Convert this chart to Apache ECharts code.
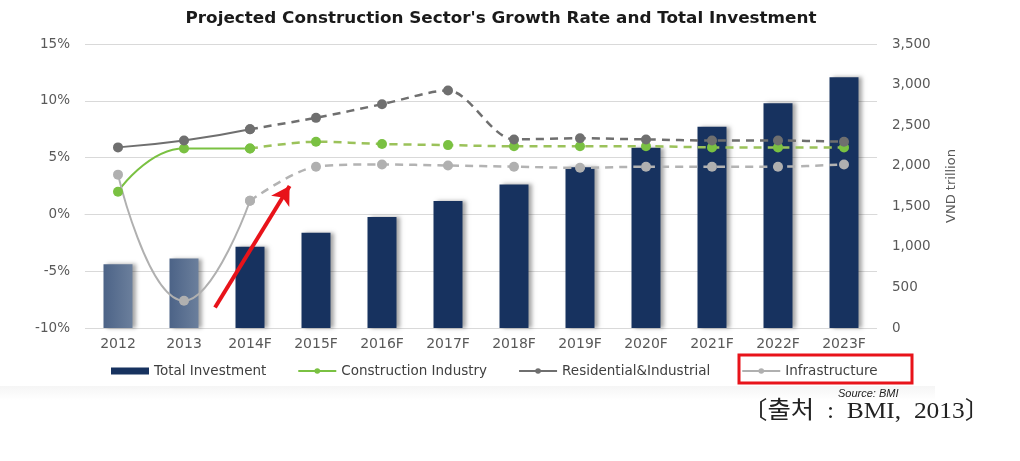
<!DOCTYPE html>
<html>
<head>
<meta charset="utf-8">
<script src="https://cdn.jsdelivr.net/npm/echarts@6/dist/echarts.min.js"></script>
<style>html,body{margin:0;padding:0;background:#fff}#c{width:1020px;height:461px}</style>
</head>
<body>
<div id="c"></div>
<script>
const categories = ['2012','2013','2014F','2015F','2016F','2017F','2018F','2019F','2020F','2021F','2022F','2023F'];
const totalInvestment = [785, 855, 1000, 1175, 1368, 1565, 1770, 1980, 2220, 2480, 2770, 3090];
const constructionIndustry = [2.0, 5.8, 5.8, 6.4, 6.2, 6.1, 6.0, 6.0, 6.0, 5.9, 5.9, 5.9];
const residentialIndustrial = [5.9, 6.5, 7.5, 8.5, 9.7, 10.9, 6.6, 6.7, 6.6, 6.5, 6.5, 6.4];
const infrastructure = [3.5, -7.6, 1.2, 4.2, 4.4, 4.3, 4.2, 4.1, 4.2, 4.2, 4.2, 4.4];
const actualCount = 3; // 2012, 2013, 2014F drawn solid; dashed from 2014F on
const leftTicks = [-10, 15, 5];
const rightTicks = [0, 3500, 500];
const arrowStart = [1.47, -8.2];
const arrowEnd = [2.6, 2.5];

const FONT = 'DejaVu Sans';
const AX = '#595959';
const navy = '#17325f';

function actualPart(arr){ return arr.map((v,i)=> i < actualCount ? v : '-'); }
function forecastPart(arr){ return arr.map((v,i)=> i >= actualCount-1 ? v : '-'); }

const lineDefs = [
  {name:'Construction Industry', data: constructionIndustry, color:'#7ac142', dash:'#9bc25a'},
  {name:'Residential&Industrial', data: residentialIndustrial, color:'#6f6f6f', dash:'#6f6f6f'},
  {name:'Infrastructure', data: infrastructure, color:'#b0b0b0', dash:'#b3b3b3'}
];

const series = [{
  name:'Total Investment', type:'bar', yAxisIndex:1, barWidth:29,
  data: totalInvestment.map((v,i)=>({value:v, itemStyle:{color: i < 2 ? {type:'linear',x:0,y:0,x2:1,y2:0,colorStops:[{offset:0,color:'#4c6387'},{offset:1,color:'#6b7f9c'}]} : navy}})),
  itemStyle:{color:navy, shadowColor:'rgba(0,0,0,0.35)', shadowBlur:4, shadowOffsetX:3},
  z:1
}];
lineDefs.forEach(d=>{
  series.push({
    name:d.name, type:'line', yAxisIndex:0, smooth:0.5, data: actualPart(d.data),
    symbol:'circle', symbolSize:10, itemStyle:{color:d.color},
    lineStyle:{color:d.color, width:2}, z:3
  });
  series.push({
    name:d.name, type:'line', yAxisIndex:0, smooth:0.3, data: forecastPart(d.data),
    symbol:'circle', symbolSize:10, itemStyle:{color:d.color},
    lineStyle:{color:d.dash, width:2.5, type:[8,6]}, z:2
  });
});
series.push({
  name:'arrow', type:'line', xAxisIndex:1, yAxisIndex:0, data:[arrowStart, arrowEnd],
  symbol:'none', lineStyle:{opacity:0}, silent:true, z:5,
  markLine:{silent:true, symbol:['none','arrow'], symbolSize:[16,18],
    lineStyle:{color:'#e8131a', width:4, type:'solid'}, label:{show:false},
    data:[[{coord:arrowStart},{coord:arrowEnd}]]}
});

const chart = echarts.init(document.getElementById('c'), null, {renderer:'canvas'});
chart.setOption({
  animation:false,
  backgroundColor:'#fff',
  grid:{left:85, right:143, top:44, bottom:133},
  legend:{data:[{name:'Total Investment', icon:'rect'},'Construction Industry','Residential&Industrial','Infrastructure'],
    left:106, top:359, itemGap:31, itemWidth:38, itemHeight:7,
    textStyle:{fontFamily:FONT, fontSize:13.5, color:'#404040'}},
  xAxis:[{type:'category', data:categories, axisTick:{show:false},
    axisLine:{show:true, lineStyle:{color:'#d9d9d9'}},
    axisLabel:{fontFamily:FONT, fontSize:14, color:AX, margin:9}},
    {type:'value', min:-0.5, max:11.5, show:false}],
  yAxis:[{type:'value', min:leftTicks[0], max:leftTicks[1], interval:leftTicks[2],
    axisLabel:{formatter:'{value}%', fontFamily:FONT, fontSize:13.5, color:AX, margin:15},
    axisLine:{show:false}, axisTick:{show:false},
    splitLine:{lineStyle:{color:'#d9d9d9', width:1}}},
    {type:'value', min:rightTicks[0], max:rightTicks[1], interval:rightTicks[2], position:'right',
    name:'VND trillion', nameLocation:'middle', nameGap:68, nameRotate:90,
    nameTextStyle:{fontFamily:FONT, fontSize:13, color:AX},
    axisLabel:{formatter:v=>v.toLocaleString('en-US'), fontFamily:FONT, fontSize:13.5, color:AX, margin:15},
    axisLine:{show:false}, axisTick:{show:false}, splitLine:{show:false}}],
  series: series,
  graphic:[
    {type:'text', x:501, y:12, scaleX:1.12, originX:0, originY:0, style:{text:"Projected Construction Sector's Growth Rate and Total Investment", font:'bold 15px "DejaVu Sans"', fill:'#1a1a1a', textAlign:'center'}},
    {type:'rect', shape:{x:0, y:386, width:935, height:14}, style:{fill:{type:'linear',x:0,y:0,x2:0,y2:1,colorStops:[{offset:0,color:'#f5f5f5'},{offset:1,color:'#ffffff'}]}}, z:-1, silent:true},
    {type:'rect', shape:{x:739, y:355, width:173, height:28}, style:{fill:'none', stroke:'#e8131a', lineWidth:3}, z:10},
    {type:'text', x:838, y:388, style:{text:'Source: BMI', font:'italic 11px "Liberation Sans"', fill:'#222'}},
    {type:'text', x:742, y:400, scaleX:1.06, originX:0, originY:0, style:{text:'〔출처  :  BMI,  2013〕', font:'24px "Liberation Serif", "Noto Sans CJK KR", serif', fill:'#222'}}
  ]
});
</script>
</body>
</html>
